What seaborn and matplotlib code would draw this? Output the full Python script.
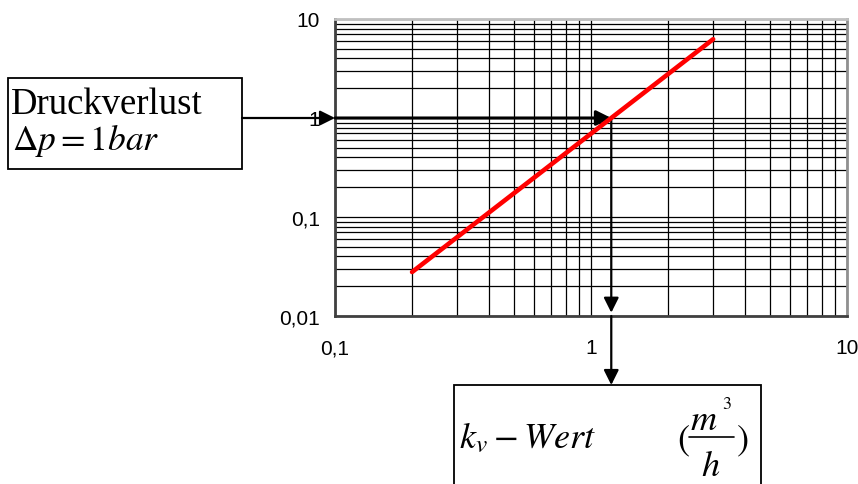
import matplotlib
matplotlib.use("Agg")
import matplotlib.pyplot as plt
import seaborn as sns
import pandas as pd
from matplotlib.patches import Rectangle
from matplotlib.lines import Line2D
from matplotlib.ticker import FixedLocator, FixedFormatter, LogLocator, NullFormatter

# Valve characteristic: flow rate vs. pressure loss
flow = [0.2, 3.0]          # m³/h
pressure_loss = [0.0278, 6.25]  # bar
kv_value = 1.2             # flow at 1 bar pressure loss
dp_ref = 1.0

x_ticks = [0.1, 1, 10]
x_tick_labels = ["0,1", "1", "10"]
y_ticks = [0.01, 0.1, 1, 10]
y_tick_labels = ["0,01", "0,1", "1", "10"]

W, H = 858, 485
sns.set_theme(style="white")
plt.rcParams["font.family"] = ["Liberation Sans", "DejaVu Sans"]
plt.rcParams["mathtext.fontset"] = "stix"

fig = plt.figure(figsize=(W / 100, H / 100), dpi=100)


def fx(x):
    return x / W


def fy(y):
    return 1 - y / H


ax = fig.add_axes([fx(335), fy(317), (847 - 335) / W, (317 - 20) / H])
ax.set_xscale("log")
ax.set_yscale("log")

df = pd.DataFrame({"Q": flow, "dp": pressure_loss})
sns.lineplot(data=df, x="Q", y="dp", ax=ax, color="red", lw=3.3, zorder=6,
             solid_capstyle="round")

ax.set_xlim(0.1, 10)
ax.set_ylim(0.01, 10)
ax.xaxis.set_major_locator(FixedLocator(x_ticks))
ax.xaxis.set_major_formatter(FixedFormatter(x_tick_labels))
ax.yaxis.set_major_locator(FixedLocator(y_ticks))
ax.yaxis.set_major_formatter(FixedFormatter(y_tick_labels))
for axis in (ax.xaxis, ax.yaxis):
    axis.set_minor_locator(LogLocator(base=10, subs=range(2, 10)))
    axis.set_minor_formatter(NullFormatter())

ax.grid(which="both", color="black", lw=0.9)
ax.set_axisbelow(True)
ax.tick_params(which="major", direction="out", length=5, width=1.3,
               color="#333333", labelsize=15, labelcolor="black")
ax.tick_params(axis="y", which="major", pad=6)
ax.tick_params(axis="x", which="major", pad=11)
ax.tick_params(which="minor", length=0)
ax.set_xlabel("")
ax.set_ylabel("")

ax.spines["left"].set_color("#404040")
ax.spines["bottom"].set_color("#404040")
ax.spines["top"].set_color("#c0c0c0")
ax.spines["right"].set_color("#909090")
for s in ax.spines.values():
    s.set_linewidth(2)

head = "-|>,head_length=0.9,head_width=0.45"

# Box -> y axis at 1 bar
ax.annotate("", xy=(0.1, dp_ref), xycoords="data",
            xytext=(242, dp_ref), textcoords=("figure pixels", "data"),
            arrowprops=dict(arrowstyle=head, color="black", lw=1.6,
                            shrinkA=0, shrinkB=0, mutation_scale=10),
            annotation_clip=False, zorder=7)
# y axis -> characteristic line
ax.annotate("", xy=(kv_value, dp_ref), xytext=(0.1, dp_ref),
            arrowprops=dict(arrowstyle=head, color="black", lw=2.2,
                            shrinkA=0, shrinkB=0, mutation_scale=10),
            annotation_clip=False, zorder=5)
# characteristic line -> x axis
ax.annotate("", xy=(kv_value, 0.0108), xytext=(kv_value, dp_ref),
            arrowprops=dict(arrowstyle=head, color="black", lw=1.6,
                            shrinkA=0, shrinkB=0, mutation_scale=10),
            annotation_clip=False, zorder=5)
# x axis -> kv box
ax.annotate("", xy=(kv_value, H - 386), xycoords=("data", "figure pixels"),
            xytext=(kv_value, 0.01), textcoords="data",
            arrowprops=dict(arrowstyle=head, color="black", lw=1.6,
                            shrinkA=0, shrinkB=0, mutation_scale=10),
            annotation_clip=False, zorder=7)

# Label boxes
fig.add_artist(Rectangle((fx(8), fy(170)), fx(242) - fx(8), fy(79) - fy(170),
                         transform=fig.transFigure, fill=False, ec="black", lw=1.3))
fig.add_artist(Rectangle((fx(454), fy(495)), fx(761) - fx(454), fy(386) - fy(495),
                         transform=fig.transFigure, fill=False, ec="black", lw=1.3))

fig.text(fx(11), fy(114), "Druckverlust", family=["Liberation Serif"],
         fontsize=26.5, va="baseline", color="black")
fig.text(fx(12), fy(150), r"$\Delta p = 1bar$", fontsize=25.5, va="baseline",
         color="black")
fig.text(fx(459), fy(448), r"$k_v - Wert$", fontsize=26, va="baseline",
         color="black")

# Unit m³/h as a stacked fraction in parentheses
fig.text(fx(677), fy(450), r"$($", fontsize=26, va="baseline", color="black")
fig.text(fx(748), fy(450), r"$)$", fontsize=26, ha="right", va="baseline",
         color="black")
fig.text(fx(704), fy(430), r"$m$", fontsize=26, ha="center", va="baseline",
         color="black")
fig.text(fx(722), fy(409), r"$\mathrm{3}$", fontsize=13, ha="left",
         va="baseline", color="black")
fig.add_artist(Line2D([fx(689), fx(734)], [fy(438), fy(438)],
                      transform=fig.transFigure, color="black", lw=1.2))
fig.text(fx(711), fy(476), r"$h$", fontsize=26, ha="center", va="baseline",
         color="black")

fig.savefig("out.png", dpi=100)
